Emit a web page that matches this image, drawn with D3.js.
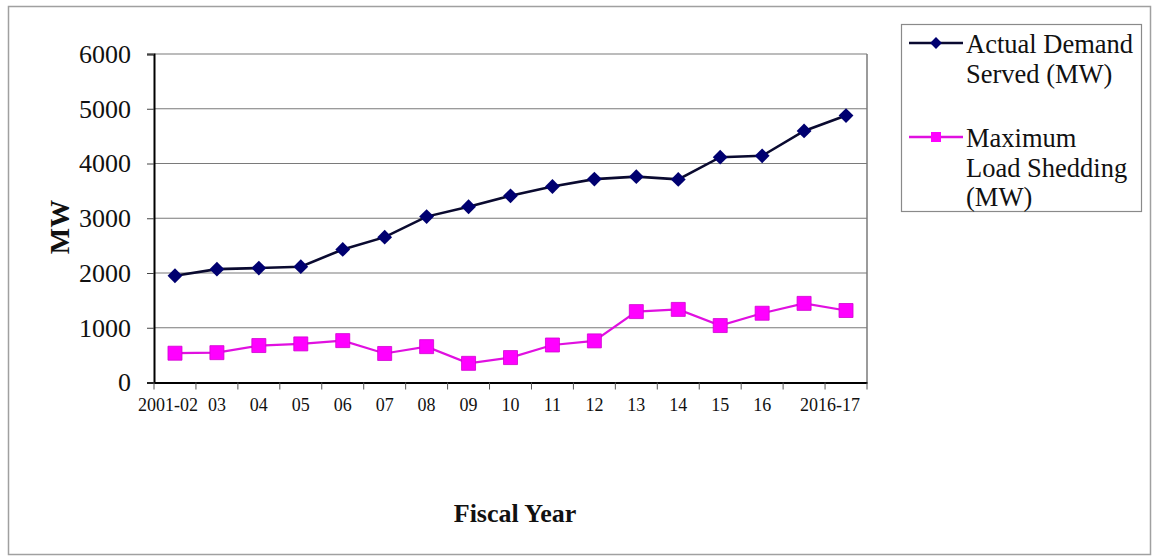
<!DOCTYPE html>
<html>
<head>
<meta charset="utf-8">
<script src="https://cdn.jsdelivr.net/npm/d3@7"></script>
<style>
    body { margin: 0; background: #fff; }
    svg { display: block; font-family: "Liberation Serif", "Times New Roman", serif; }
</style>
</head>
<body>
<div id="chart"></div>
<script>
    // Datos
    const years = ["2001-02", "03", "04", "05", "06", "07", "08", "09", "10", "11", "12", "13", "14", "15", "16", "", "2016-17"];
    const demandServed = [1950, 2070, 2090, 2115, 2430, 2655, 3030, 3210, 3410, 3580, 3715, 3760, 3710, 4115, 4140, 4595, 4875];
    const loadShedding = [535, 545, 675, 705, 765, 530, 655, 350, 455, 685, 760, 1295, 1335, 1040, 1265, 1445, 1315];
    const yTicks = [0, 1000, 2000, 3000, 4000, 5000, 6000];
    const seriesNames = [["Actual Demand", "Served (MW)"], ["Maximum", "Load Shedding", "(MW)"]];

    const width = 1156, height = 560;
    const margin = { top: 54, right: 289, bottom: 177.5, left: 154 };
    const innerW = width - margin.left - margin.right;
    const innerH = height - margin.top - margin.bottom;

    const svg = d3.select("#chart")
        .append("svg")
        .attr("width", width)
        .attr("height", height);

    // Marco exterior
    svg.append("rect")
        .attr("x", 8.5).attr("y", 6.5)
        .attr("width", 1142).attr("height", 548)
        .attr("fill", "none")
        .attr("stroke", "#a0a0a0")
        .attr("stroke-width", 1.5);

    const g = svg.append("g")
        .attr("transform", `translate(${margin.left},${margin.top})`);

    const x = d3.scaleBand()
        .domain(d3.range(years.length))
        .range([0, innerW]);

    const y = d3.scaleLinear()
        .domain([0, 6000])
        .range([innerH, 0]);

    // Rejilla
    g.append("g")
        .selectAll("line")
        .data(yTicks.slice(1))
        .enter()
        .append("line")
        .attr("x1", 0).attr("x2", innerW)
        .attr("y1", d => y(d)).attr("y2", d => y(d))
        .attr("stroke", "#7a7a7a")
        .attr("stroke-width", 1.2);

    // Borde derecho del área
    g.append("line")
        .attr("x1", innerW).attr("x2", innerW)
        .attr("y1", 0).attr("y2", innerH)
        .attr("stroke", "#7a7a7a")
        .attr("stroke-width", 1.5);

    // Eje Y
    const yAxis = g.append("g")
        .call(d3.axisLeft(y).tickValues(yTicks).tickFormat(d3.format("d")).tickSize(7).tickPadding(16));
    yAxis.select(".domain").attr("stroke", "#000").attr("stroke-width", 2);
    yAxis.selectAll(".tick line").attr("stroke", "#444");
    yAxis.selectAll("text")
        .attr("font-family", "Liberation Serif")
        .attr("font-size", 26)
        .attr("fill", "#111");

    // Eje X
    const xAxis = g.append("g")
        .attr("transform", `translate(0,${innerH})`)
        .call(d3.axisBottom(x).tickSize(0).tickFormat(""));
    xAxis.select(".domain").attr("stroke", "#000").attr("stroke-width", 2);

    g.append("g")
        .selectAll("line")
        .data(d3.range(years.length + 1))
        .enter()
        .append("line")
        .attr("x1", i => i * x.step()).attr("x2", i => i * x.step())
        .attr("y1", innerH).attr("y2", innerH + 7)
        .attr("stroke", "#555");

    g.append("g")
        .selectAll("text")
        .data(years)
        .enter()
        .append("text")
        .attr("x", (d, i) => x(i) + x.bandwidth() / 2)
        .attr("y", innerH + 28)
        .attr("dx", (d, i) => i === 0 ? -7 : (i === years.length - 1 ? -16 : 0))
        .attr("text-anchor", "middle")
        .attr("font-size", 18)
        .attr("fill", "#111")
        .text(d => d);

    // Títulos de ejes
    svg.append("text")
        .attr("transform", "translate(69,227) rotate(-90)")
        .attr("text-anchor", "middle")
        .attr("font-size", 28)
        .attr("font-weight", "bold")
        .attr("fill", "#111")
        .text("MW");

    svg.append("text")
        .attr("x", 515)
        .attr("y", 522)
        .attr("text-anchor", "middle")
        .attr("font-size", 26)
        .attr("font-weight", "bold")
        .attr("fill", "#111")
        .text("Fiscal Year");

    const cx = (d, i) => x(i) + x.bandwidth() / 2;
    const line = d3.line().x(cx).y(d => y(d));

    const demandColor = "#000070";
    const sheddingColor = "#ff00ff";

    g.append("path")
        .datum(loadShedding)
        .attr("d", line)
        .attr("fill", "none")
        .attr("stroke", "#e010e0")
        .attr("stroke-width", 2.2);

    g.append("g")
        .selectAll("path")
        .data(loadShedding)
        .enter()
        .append("path")
        .attr("transform", (d, i) => `translate(${cx(d, i)},${y(d)})`)
        .attr("d", d3.symbol(d3.symbolSquare, 196))
        .attr("fill", sheddingColor)
        .attr("stroke", "#d000d0")
        .attr("stroke-width", 0.8);

    g.append("path")
        .datum(demandServed)
        .attr("d", line)
        .attr("fill", "none")
        .attr("stroke", "#0a0a30")
        .attr("stroke-width", 2.6);

    g.append("g")
        .selectAll("path")
        .data(demandServed)
        .enter()
        .append("path")
        .attr("transform", (d, i) => `translate(${cx(d, i)},${y(d)}) rotate(45)`)
        .attr("d", d3.symbol(d3.symbolSquare, 110))
        .attr("fill", demandColor);

    // Leyenda
    const legend = svg.append("g");
    legend.append("rect")
        .attr("x", 901.5).attr("y", 24.5)
        .attr("width", 240).attr("height", 187)
        .attr("fill", "#fff")
        .attr("stroke", "#8a8a8a")
        .attr("stroke-width", 1.2);

    const legendItems = [
        { names: seriesNames[0], color: "#0a0a30", marker: demandColor, sym: 70, rot: 45, y: 43 },
        { names: seriesNames[1], color: "#e010e0", marker: sheddingColor, sym: 100, rot: 0, y: 137 }
    ];

    legendItems.forEach(it => {
        legend.append("line")
            .attr("x1", 909).attr("x2", 963)
            .attr("y1", it.y).attr("y2", it.y)
            .attr("stroke", it.color)
            .attr("stroke-width", 2.4);
        legend.append("path")
            .attr("transform", `translate(936,${it.y}) rotate(${it.rot})`)
            .attr("d", d3.symbol(d3.symbolSquare, it.sym))
            .attr("fill", it.marker);
        legend.append("text")
            .attr("x", 966)
            .attr("y", it.y + 10)
            .attr("font-size", 26.5)
            .attr("fill", "#111")
            .selectAll("tspan")
            .data(it.names)
            .enter()
            .append("tspan")
            .attr("x", 966)
            .attr("dy", (d, i) => i === 0 ? 0 : 29.5)
            .text(d => d);
    });
</script>
</body>
</html>
